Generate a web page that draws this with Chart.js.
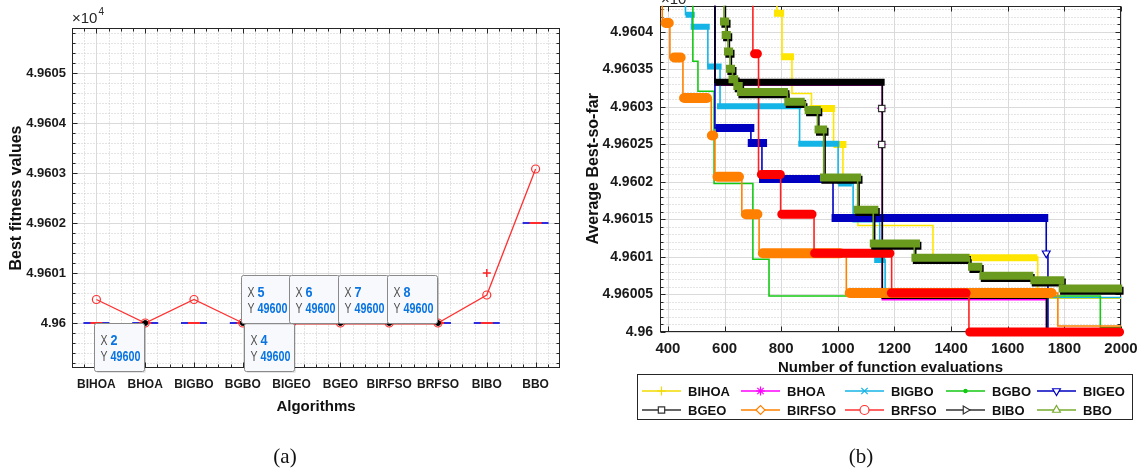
<!DOCTYPE html>
<html>
<head>
<meta charset="utf-8">
<script src="https://cdn.jsdelivr.net/npm/chart.js@4.4.1/dist/chart.umd.min.js"></script>
<style>
  html, body { margin: 0; padding: 0; background: #fff; }
  #page { position: relative; width: 1137px; height: 473px; overflow: hidden; background: #fff; }
  #wrapA { position: absolute; left: 0; top: 0; width: 575px; height: 473px; }
  #wrapB { position: absolute; left: 575px; top: 0; width: 562px; height: 473px; }
  .caption { position: absolute; top: 444px; font-family: 'Liberation Serif', 'DejaVu Serif', serif; font-size: 21px; color: #111; transform: translateX(-50%); }
</style>
</head>
<body>
<div id="page">
  <div id="wrapA"><canvas id="chartA" width="575" height="473"></canvas></div>
  <div id="wrapB"><canvas id="chartB" width="562" height="473"></canvas></div>
  <div class="caption" style="left:285px">(a)</div>
  <div class="caption" style="left:861px">(b)</div>
</div>
<script>
// ---- panel (a): best fitness per algorithm ----
const algorithms = ['BIHOA', 'BHOA', 'BIGBO', 'BGBO', 'BIGEO', 'BGEO', 'BIRFSO', 'BRFSO', 'BIBO', 'BBO'];
const meanFitness = [49600.47, 49600, 49600.47, 49600, 49600, 49600, 49600, 49600, 49600.56, 49603.08];
const medianFitness = [49600, 49600, 49600, 49600, 49600, 49600, 49600, 49600, 49600, 49602];
const outlierAlgo = [9];
const outlierFitness = [49601.0];
const tipAlgo = [2, 4, 5, 6, 7, 8];
const tipFitness = [49600, 49600, 49600, 49600, 49600, 49600];
const tipPlace = ['bl', 'br', 'tl', 'tl', 'tl', 'tl'];
const fitnessTicks = [49600, 49601, 49602, 49603, 49604, 49605];

// ---- panel (b): average best-so-far curves ----
const evalTicks = [400, 600, 800, 1000, 1200, 1400, 1600, 1800, 2000];
const avgTicks = [49600, 49600.5, 49601, 49601.5, 49602, 49602.5, 49603, 49603.5, 49604];
const seriesNames = ['BIHOA', 'BHOA', 'BIGBO', 'BGBO', 'BIGEO', 'BGEO', 'BIRFSO', 'BRFSO', 'BIBO', 'BBO'];

// steps: [evaluations, value]; bars: [from, to, value] where the markers pile up
const bihoaSteps = [[372, 49605.0], [785, 49604.25], [803, 49603.67], [838, 49603.18], [907, 49602.98], [985, 49602.50], [1018, 49602.02], [1071, 49601.42], [1336, 49601.0], [1706, 49600.45], [2000, 49600.45]];
const bihoaBars = [[787, 798, 49604.25], [812, 833, 49603.67], [912, 978, 49602.98], [997, 1018, 49602.50], [1467, 1692, 49600.99]];

const bhoaSteps = [[372, 49605.0], [566, 49603.29], [1157, 49600.43], [1737, 49599.97], [2000, 49599.97]];
const bhoaMarks = [[1155, 49602.98], [1155, 49602.50]];

const bigboSteps = [[372, 49605.0], [462, 49604.23], [485, 49604.07], [541, 49603.54], [584, 49603.01], [865, 49602.51], [1001, 49601.98], [1054, 49601.47], [1148, 49600.96], [1167, 49600.46], [2000, 49600.46]];
const bigboBars = [[473, 484, 49604.23], [491, 537, 49604.07], [549, 579, 49603.54], [584, 860, 49603.01], [871, 995, 49602.51], [1012, 1039, 49601.98], [1139, 1157, 49600.96]];

const bgboSteps = [[372, 49605.0], [488, 49603.61], [506, 49603.21], [563, 49601.98], [700, 49600.97], [757, 49600.48], [1927, 49600.06], [2000, 49600.06]];

const bigeoSteps = [[372, 49605.0], [566, 49602.72], [693, 49602.52], [732, 49602.04], [983, 49601.52], [1736, 49601.05], [1742, 49599.97], [2000, 49599.97]];
const bigeoBars = [[582, 691, 49602.72], [696, 736, 49602.52], [736, 964, 49602.04], [992, 1729, 49601.52]];
const bigeoMarks = [[1736, 49601.05]];

const bgeoSteps = [[372, 49605.0], [566, 49603.33], [1157, 49600.45], [1737, 49599.97], [2000, 49599.97]];
const bgeoBars = [[578, 1153, 49603.33]];
const bgeoMarks = [[1155, 49602.98], [1155, 49602.50]];

const birfsoSteps = [[372, 49605.0], [380, 49604.12], [407, 49603.66], [453, 49603.12], [553, 49602.62], [566, 49602.07], [661, 49601.57], [722, 49601.05], [1030, 49600.52], [1777, 49600.08], [2000, 49600.08]];
const birfsoBars = [[392, 403, 49604.12], [422, 445, 49603.66], [457, 538, 49603.12], [555, 560, 49602.62], [575, 651, 49602.07], [675, 716, 49601.57], [735, 1008, 49601.05], [1042, 1755, 49600.52]];

const brfsoSteps = [[372, 49605.0], [700, 49603.71], [720, 49602.10], [798, 49601.57], [916, 49601.05], [1190, 49600.52], [1463, 49600.0], [2000, 49600.0]];
const brfsoBars = [[706, 716, 49603.71], [730, 797, 49602.10], [802, 909, 49601.57], [918, 1184, 49601.05], [1189, 1453, 49600.52], [1466, 1995, 49600.0]];

const biboSteps = [[372, 49605.0], [603, 49604.11], [609, 49603.93], [617, 49603.71], [624, 49603.48], [633, 49603.34], [650, 49603.25], [661, 49603.17], [827, 49603.04], [890, 49602.93], [933, 49602.67], [955, 49602.03], [1075, 49601.60], [1130, 49601.15], [1275, 49600.96], [1470, 49600.84], [1510, 49600.72], [1690, 49600.66], [1795, 49600.55], [2000, 49600.55]];
const biboBars = [[603, 607, 49604.11], [609, 613, 49603.93], [617, 621, 49603.71], [624, 628, 49603.48], [633, 639, 49603.34], [650, 655, 49603.25], [663, 815, 49603.17], [830, 874, 49603.04], [902, 931, 49602.93], [937, 953, 49602.67], [956, 1073, 49602.03], [1075, 1134, 49601.60], [1132, 1281, 49601.15], [1279, 1456, 49600.96], [1479, 1501, 49600.84], [1519, 1681, 49600.72], [1699, 1791, 49600.66], [1799, 1995, 49600.55]];

const bboSteps = [[372, 49605.0], [598, 49604.14], [604, 49603.96], [612, 49603.74], [619, 49603.51], [628, 49603.37], [645, 49603.28], [656, 49603.20], [822, 49603.07], [885, 49602.96], [928, 49602.70], [950, 49602.06], [1070, 49601.63], [1125, 49601.18], [1270, 49600.99], [1465, 49600.87], [1505, 49600.75], [1685, 49600.69], [1790, 49600.58], [2000, 49600.58]];
const bboBars = [[598, 602, 49604.14], [604, 608, 49603.96], [612, 616, 49603.74], [619, 623, 49603.51], [628, 634, 49603.37], [645, 650, 49603.28], [658, 810, 49603.20], [825, 869, 49603.07], [897, 926, 49602.96], [932, 948, 49602.70], [951, 1068, 49602.06], [1070, 1129, 49601.63], [1127, 1276, 49601.18], [1274, 1451, 49600.99], [1474, 1496, 49600.87], [1514, 1676, 49600.75], [1694, 1786, 49600.69], [1794, 1990, 49600.58]];

const stepsList = [bihoaSteps, bhoaSteps, bigboSteps, bgboSteps, bigeoSteps, bgeoSteps, birfsoSteps, brfsoSteps, biboSteps, bboSteps];
const barsList = [bihoaBars, null, bigboBars, null, bigeoBars, bgeoBars, birfsoBars, brfsoBars, biboBars, bboBars];
const marksList = [null, bhoaMarks, null, null, bigeoMarks, bgeoMarks, null, null, null, null];

// looks (colours, widths, marker shapes)
const seriesLook = [
  { line: '#ffe600', bar: '#ffe600', width: 7, cap: 'square', legend: '#f2da00', mark: 'cross', rot: 0, fill: '#fff' },
  { line: '#ff00ff', bar: '#ff00ff', width: 7, cap: 'square', legend: '#ff00ff', mark: 'star', rot: 0, fill: '#ff00ff' },
  { line: '#14b4e6', bar: '#14b4e6', width: 6, cap: 'square', legend: '#14b4e6', mark: 'crossRot', rot: 0, fill: '#fff' },
  { line: '#14c814', bar: '#14c814', width: 6, cap: 'square', legend: '#14c814', mark: 'circle', rot: 0, fill: '#14c814', r: 1.6 },
  { line: '#0000c0', bar: '#0000c0', width: 8, cap: 'square', legend: '#0000c0', mark: 'triangle', rot: 180, fill: '#fff' },
  { line: '#000000', bar: '#000000', width: 7, cap: 'square', legend: '#333333', mark: 'rect', rot: 0, fill: '#fff' },
  { line: '#ff8000', bar: '#ff8000', width: 10, cap: 'round', legend: '#ff8000', mark: 'rectRot', rot: 0, fill: '#fff' },
  { line: '#ff2020', bar: '#ff0000', width: 9, cap: 'round', legend: '#ff3030', mark: 'circle', rot: 0, fill: '#fff' },
  { line: '#000000', bar: '#000000', width: 8, cap: 'square', legend: '#333333', mark: 'triangle', rot: 90, fill: '#fff' },
  { line: '#6b9b1e', bar: '#6b9b1e', width: 8, cap: 'square', legend: '#77ac30', mark: 'triangle', rot: 0, fill: '#fff' }
];

const FONT = "'Liberation Sans', Arial, Helvetica, sans-serif";
Chart.defaults.font.family = FONT;

// a narrow face is closer to the tall, tight tick labels of the original
function hasFont(name) {
  const c = document.createElement('canvas').getContext('2d');
  c.font = '20px monospace';
  const base = c.measureText('BIRFSO 4.96035').width;
  c.font = "20px '" + name + "', monospace";
  return Math.abs(c.measureText('BIRFSO 4.96035').width - base) > 0.5;
}
const narrow = hasFont('Liberation Sans Narrow');
const TICKFONT = narrow ? "'Liberation Sans Narrow', " + FONT : FONT;

const fmt = v => String(parseFloat((v / 1e4).toFixed(6)));

function between(lo, hi, step, skip) {
  const out = [];
  for (let k = 0; ; k++) {
    const v = +(lo + k * step).toFixed(6);
    if (v > hi + 1e-9) break;
    if (!skip.some(s => Math.abs(s - v) < 1e-6)) out.push(v);
  }
  return out;
}

// grid, box and inward ticks (drawn under the data, like MATLAB)
const boxAxes = {
  id: 'boxAxes',
  beforeDatasetsDraw(chart, args, o) {
    const { ctx, chartArea: a, scales } = chart;
    const sx = scales.x, sy = scales.y;
    const X = v => Math.round(sx.getPixelForValue(v)) + 0.5;
    const Y = v => Math.round(sy.getPixelForValue(v)) + 0.5;
    const L = Math.round(a.left) + 0.5, R = Math.round(a.right) - 0.5;
    const T = Math.round(a.top) + 0.5, B = Math.round(a.bottom) - 0.5;
    ctx.save();
    ctx.fillStyle = '#fff';
    ctx.fillRect(a.left, a.top, a.width, a.height);
    ctx.lineWidth = 1;
    ctx.setLineDash([1, 2]);
    ctx.strokeStyle = '#c9c9c9';
    ctx.beginPath();
    o.xMinor.forEach(v => { const p = X(v); ctx.moveTo(p, T); ctx.lineTo(p, B); });
    o.yMinor.forEach(v => { const p = Y(v); ctx.moveTo(L, p); ctx.lineTo(R, p); });
    ctx.stroke();
    ctx.setLineDash([]);
    ctx.strokeStyle = '#dadada';
    ctx.beginPath();
    o.xMajor.forEach(v => { const p = X(v); ctx.moveTo(p, T); ctx.lineTo(p, B); });
    o.yMajor.forEach(v => { const p = Y(v); ctx.moveTo(L, p); ctx.lineTo(R, p); });
    ctx.stroke();
    ctx.strokeStyle = '#262626';
    ctx.strokeRect(L, T, R - L, B - T);
    ctx.beginPath();
    o.xMajor.forEach(v => { const p = X(v); ctx.moveTo(p, B); ctx.lineTo(p, B - 5); ctx.moveTo(p, T); ctx.lineTo(p, T + 5); });
    o.xMinor.forEach(v => { const p = X(v); ctx.moveTo(p, B); ctx.lineTo(p, B - 3); ctx.moveTo(p, T); ctx.lineTo(p, T + 3); });
    o.yMajor.forEach(v => { const p = Y(v); ctx.moveTo(L, p); ctx.lineTo(L + 5, p); ctx.moveTo(R, p); ctx.lineTo(R - 5, p); });
    o.yMinor.forEach(v => { const p = Y(v); ctx.moveTo(L, p); ctx.lineTo(L + 3, p); ctx.moveTo(R, p); ctx.lineTo(R - 3, p); });
    ctx.stroke();
    // exponent label
    ctx.fillStyle = '#262626';
    ctx.textBaseline = 'alphabetic';
    ctx.font = '15px ' + FONT;
    ctx.fillText('\u00d710', o.expX, o.expY);
    const w = ctx.measureText('\u00d710').width;
    ctx.font = '10px ' + FONT;
    ctx.fillText('4', o.expX + w + 1, o.expY - 8);
    ctx.restore();
  }
};

function roundRect(ctx, x, y, w, h, r) {
  ctx.beginPath();
  ctx.moveTo(x + r, y);
  ctx.arcTo(x + w, y, x + w, y + h, r);
  ctx.arcTo(x + w, y + h, x, y + h, r);
  ctx.arcTo(x, y + h, x, y, r);
  ctx.arcTo(x, y, x + w, y, r);
  ctx.closePath();
}

const dataTips = {
  id: 'dataTips',
  afterDraw(chart) {
    const { ctx, scales: { x, y } } = chart;
    ctx.save();
    tipAlgo.forEach((k, i) => {
      const px = Math.round(x.getPixelForValue(k)), py = Math.round(y.getPixelForValue(tipFitness[i]));
      const w = 50, h = 48;
      const bx = (tipPlace[i][1] === 'l' ? px - w - 1 : px + 1) + 0.5;
      const by = (tipPlace[i][0] === 't' ? py - h : py) + 0.5;
      roundRect(ctx, bx + 1.5, by + 1.5, w, h, 2);
      ctx.fillStyle = 'rgba(0,0,0,0.10)';
      ctx.fill();
      roundRect(ctx, bx, by, w, h, 2);
      ctx.fillStyle = '#f8f9fc';
      ctx.fill();
      ctx.strokeStyle = '#8a8a8a';
      ctx.lineWidth = 1;
      ctx.stroke();
      ctx.textBaseline = 'alphabetic';
      ctx.font = '14px ' + FONT;
      ctx.fillStyle = '#505050';
      ctx.fillText('X', bx + 6, by + 21, 7);
      ctx.fillText('Y', bx + 6, by + 37, 7);
      ctx.font = 'bold 14px ' + FONT;
      ctx.fillStyle = '#0a74e0';
      ctx.fillText(String(k), bx + 16, by + 21, 7);
      ctx.fillText(String(tipFitness[i]), bx + 16, by + 37, 30);
    });
    ctx.restore();
  }
};

function drawMark(ctx, look, x, y, r) {
  const h = Chart.helpers;
  ctx.fillStyle = look.fill;
  ctx.strokeStyle = look.legend;
  ctx.lineWidth = 1.2;
  if (h && h.drawPoint) {
    h.drawPoint(ctx, { pointStyle: look.mark, rotation: look.rot, radius: look.r || r, borderWidth: 1.2 }, x, y);
  }
}

const legendBox = {
  id: 'legendBox',
  afterDraw(chart) {
    const ctx = chart.ctx;
    ctx.save();
    ctx.fillStyle = '#fff';
    ctx.fillRect(62.5, 374.5, 495, 45);
    ctx.strokeStyle = '#262626';
    ctx.lineWidth = 1;
    ctx.strokeRect(62.5, 374.5, 495, 45);
    const colX = [67, 166, 270, 371, 462], rowY = [391, 410];
    seriesNames.forEach((name, i) => {
      const look = seriesLook[i];
      const x0 = colX[i % 5], y0 = rowY[Math.floor(i / 5)];
      ctx.strokeStyle = look.legend;
      ctx.lineWidth = 1.5;
      ctx.beginPath();
      ctx.moveTo(x0, y0);
      ctx.lineTo(x0 + 39, y0);
      ctx.stroke();
      drawMark(ctx, look, x0 + 19.5, y0, 4.5);
      ctx.fillStyle = '#111';
      ctx.font = narrow ? 'bold 15px ' + TICKFONT : 'bold 13px ' + FONT;
      ctx.textBaseline = 'middle';
      ctx.fillText(name, x0 + 46, y0 + 1);
    });
    ctx.restore();
  }
};

const zeroPad = ax => { ax.paddingTop = 0; ax.paddingBottom = 0; ax.paddingLeft = 0; ax.paddingRight = 0; };

// ---------------- chart (a) ----------------
new Chart(document.getElementById('chartA').getContext('2d'), {
  type: 'line',
  data: {
    datasets: [
      {
        label: 'box',
        data: medianFitness.map((v, i) => ({ x: i + 1, y: v })),
        showLine: false, pointStyle: 'line', pointRadius: 13,
        pointBorderColor: '#2d2de0', pointBorderWidth: 2, order: 5
      },
      {
        label: 'median',
        data: medianFitness.map((v, i) => ({ x: i + 1, y: v })),
        showLine: false, pointStyle: 'line', pointRadius: 6,
        pointBorderColor: '#ff2a2a', pointBorderWidth: 2, order: 4
      },
      {
        label: 'mean',
        data: meanFitness.map((v, i) => ({ x: i + 1, y: v })),
        borderColor: '#ff3030', borderWidth: 1.3,
        segment: { borderWidth: c => (c.p0.parsed.y === c.p1.parsed.y ? 2.8 : 1.3) },
        pointStyle: 'circle', pointRadius: 4, pointBorderColor: '#ff3030',
        pointBackgroundColor: 'rgba(255,255,255,0)', pointBorderWidth: 1.2, order: 3
      },
      {
        label: 'outlier',
        data: outlierAlgo.map((k, i) => ({ x: k, y: outlierFitness[i] })),
        showLine: false, pointStyle: 'cross', pointRadius: 4,
        pointBorderColor: '#ff2020', pointBorderWidth: 1.4, order: 2
      },
      {
        label: 'tips',
        data: tipAlgo.map((k, i) => ({ x: k, y: tipFitness[i] })),
        showLine: false, pointStyle: 'circle', pointRadius: 2.5,
        pointBackgroundColor: '#000', pointBorderColor: '#000', pointBorderWidth: 1, order: 1
      }
    ]
  },
  options: {
    responsive: false,
    animation: false,
    events: [],
    layout: { padding: { left: 0, top: 28, right: 7, bottom: 53 } },
    plugins: {
      legend: { display: false },
      tooltip: { enabled: false },
      boxAxes: {
        xMajor: algorithms.map((_, i) => i + 1),
        xMinor: between(0.75, 10.25, 0.25, algorithms.map((_, i) => i + 1)),
        yMajor: fitnessTicks,
        yMinor: between(49599.2, 49605.8, 0.2, fitnessTicks),
        expX: 72, expY: 23
      }
    },
    scales: {
      x: {
        type: 'linear', min: 0.5, max: 10.5,
        afterBuildTicks: ax => { ax.ticks = algorithms.map((_, i) => ({ value: i + 1 })); },
        afterFit: ax => { ax.height = 52; zeroPad(ax); },
        grid: { display: false, drawTicks: false },
        border: { display: false },
        ticks: {
          autoSkip: false, maxRotation: 0, minRotation: 0, padding: 9, color: '#1a1a1a',
          font: { family: TICKFONT, size: narrow ? 15 : 12, weight: 'bold' },
          callback: v => algorithms[Math.round(v) - 1] || ''
        },
        title: { display: true, text: 'Algorithms', color: '#111', font: { family: TICKFONT, size: narrow ? 18 : 15, weight: 'bold' }, padding: { top: 0, bottom: 4 } }
      },
      y: {
        type: 'linear', min: 49599.1, max: 49605.9,
        afterBuildTicks: ax => { ax.ticks = fitnessTicks.map(v => ({ value: v })); },
        afterFit: ax => { ax.width = 72; zeroPad(ax); },
        grid: { display: false, drawTicks: false },
        border: { display: false },
        ticks: { padding: 6, color: '#1a1a1a', font: { family: TICKFONT, size: narrow ? 16 : 13, weight: 'bold' }, callback: v => fmt(v) },
        title: { display: true, text: 'Best fitness values', color: '#111', font: { family: TICKFONT, size: narrow ? 18 : 16, weight: 'bold' }, padding: { top: 7, bottom: 0 } }
      }
    }
  },
  plugins: [boxAxes, dataTips]
});

// ---------------- chart (b) ----------------
const toPoints = arr => arr.map(([x, y]) => ({ x, y }));
const toBars = arr => {
  const out = [];
  arr.forEach(([a, b, v]) => { out.push({ x: a, y: v }, { x: b, y: v }, { x: b, y: null }); });
  return out;
};

const datasetsB = [];
seriesNames.forEach((name, i) => {
  const look = seriesLook[i];
  datasetsB.push({
    label: name, data: toPoints(stepsList[i]), stepped: true,
    borderColor: look.line, borderWidth: 1.6, pointRadius: 0, fill: false
  });
  if (barsList[i]) {
    datasetsB.push({
      label: name + ' markers', data: toBars(barsList[i]),
      borderColor: look.bar, borderWidth: look.width, borderCapStyle: look.cap,
      pointRadius: 0, spanGaps: false, clip: 8, fill: false
    });
  }
  if (marksList[i]) {
    datasetsB.push({
      label: name + ' marks', data: toPoints(marksList[i]), showLine: false,
      pointStyle: look.mark, rotation: look.rot, pointRadius: 4.5,
      pointBackgroundColor: look.fill, pointBorderColor: i === 5 ? '#333' : look.line,
      pointBorderWidth: 1.2, clip: 8
    });
  }
});
datasetsB.forEach((d, i) => { d.order = datasetsB.length - i; });

new Chart(document.getElementById('chartB').getContext('2d'), {
  type: 'line',
  data: { datasets: datasetsB },
  options: {
    responsive: false,
    animation: false,
    events: [],
    layout: { padding: { left: 0, top: 5, right: 16, bottom: 96 } },
    plugins: {
      legend: { display: false },
      tooltip: { enabled: false },
      boxAxes: {
        xMajor: evalTicks,
        xMinor: [],
        yMajor: avgTicks,
        yMinor: between(49600.1, 49604.3, 0.1, avgTicks),
        expX: 86, expY: 4
      }
    },
    scales: {
      x: {
        type: 'linear', min: 372, max: 2000,
        afterBuildTicks: ax => { ax.ticks = evalTicks.map(v => ({ value: v })); },
        afterFit: ax => { ax.height = 45; zeroPad(ax); },
        grid: { display: false, drawTicks: false },
        border: { display: false },
        ticks: {
          autoSkip: false, maxRotation: 0, minRotation: 0, padding: 8, color: '#1a1a1a',
          font: { family: TICKFONT, size: narrow ? 18 : 15, weight: 'bold' },
          callback: v => String(v)
        },
        title: { display: true, text: 'Number of function evaluations', color: '#111', font: { family: TICKFONT, size: narrow ? 18 : 15, weight: 'bold' }, padding: { top: 0, bottom: 0 } }
      },
      y: {
        type: 'linear', min: 49600, max: 49604.35,
        afterBuildTicks: ax => { ax.ticks = avgTicks.map(v => ({ value: v })); },
        afterFit: ax => { ax.width = 85; zeroPad(ax); },
        grid: { display: false, drawTicks: false },
        border: { display: false },
        ticks: { padding: 7, color: '#1a1a1a', font: { family: TICKFONT, size: narrow ? 16 : 14, weight: 'bold' }, callback: v => fmt(v) },
        title: { display: true, text: 'Average Best-so-far', color: '#111', font: { family: TICKFONT, size: narrow ? 18 : 16, weight: 'bold' }, padding: { top: 9, bottom: 0 } }
      }
    }
  },
  plugins: [boxAxes, legendBox]
});
</script>
</body>
</html>
